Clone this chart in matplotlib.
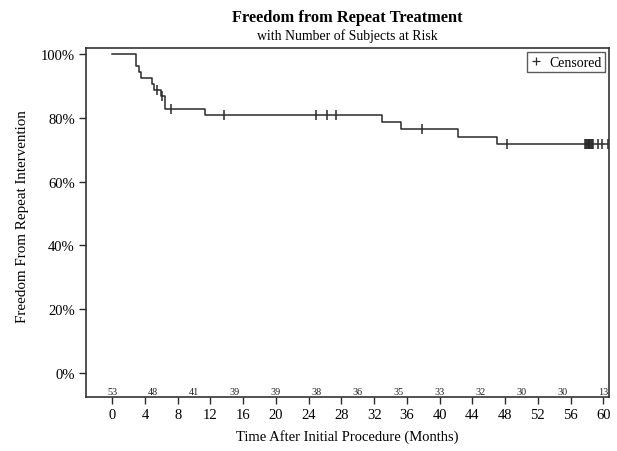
import numpy as np
import matplotlib
matplotlib.use("Agg")
import matplotlib.pyplot as plt
from matplotlib.lines import Line2D

plt.rcParams['font.family'] = ['Liberation Serif', 'DejaVu Serif']

# step curve (months, % free from repeat intervention)
step_times = [0, 2.9, 3.3, 3.5, 4.9, 5.1, 6.0, 6.4, 11.4, 33.0, 35.3, 42.3, 47.0, 60.6]
step_surv = [100, 96.2, 94.3, 92.5, 90.6, 88.7, 86.8, 82.9, 80.9, 78.6, 76.4, 74.1, 71.8, 71.8]

# censored subjects
censor_times = [5.5, 6.1, 7.2, 13.7, 24.9, 26.2, 27.3, 37.9, 48.2,
                57.8, 57.9, 58.0, 58.1, 58.2, 58.3, 58.4, 58.5, 58.6, 58.7,
                59.3, 59.9, 60.6]

# number at risk
risk_times = [0, 5, 10, 15, 20, 25, 30, 35, 40, 45, 50, 55, 60]
risk_counts = [53, 48, 41, 39, 39, 38, 36, 35, 33, 32, 30, 30, 13]

x_ticks = list(range(0, 61, 4))
y_ticks = [0, 20, 40, 60, 80, 100]

line_col = '#2a2a2a'

fig = plt.figure(figsize=(6.17, 4.52), dpi=100)
ax = fig.add_axes([0.1394, 0.1195, 0.8476, 0.7721])

ax.step(step_times, step_surv, where='post', color=line_col, lw=1.1)

# censor marks sit on the curve
idx = np.searchsorted(step_times, censor_times, side='right') - 1
censor_y = np.array(step_surv)[idx]
ax.plot(censor_times, censor_y, linestyle='none', marker='|', markersize=7,
        markeredgewidth=1.1, color=line_col)

for t, n in zip(risk_times, risk_counts):
    ax.text(t, -5.8, str(n), ha='center', va='center', fontsize=7.3, color='#222222')

ax.set_xlim(-3.2, 60.7)
ax.set_ylim(-7.5, 101.9)
ax.set_xticks(x_ticks)
ax.set_yticks(y_ticks)
ax.set_yticklabels([f'{v}%' for v in y_ticks])
ax.tick_params(axis='both', direction='out', length=5, width=1, color=line_col,
               labelsize=10.5, pad=3)
for s in ax.spines.values():
    s.set_color('#333333')
    s.set_linewidth(1.2)

ax.set_xlabel('Time After Initial Procedure (Months)', fontsize=10.5, labelpad=6)
ax.set_ylabel('Freedom From Repeat Intervention', fontsize=10.8)
ax.yaxis.set_label_coords(-0.109, 0.521)

fig.text(0.5627, 0.960, 'Freedom from Repeat Treatment', ha='center', va='center',
         fontsize=11.8, fontweight='bold')
fig.text(0.5627, 0.921, 'with Number of Subjects at Risk', ha='center', va='center',
         fontsize=9.9)

handle = Line2D([], [], linestyle='none', marker='+', markersize=6,
                markeredgewidth=0.9, color=line_col)
leg = ax.legend([handle], ['Censored'], loc='upper right', fontsize=10,
                frameon=True, fancybox=False, handlelength=0.8,
                handletextpad=0.5, borderpad=0.25, borderaxespad=0.3)
leg.get_frame().set_edgecolor('#333333')
leg.get_frame().set_linewidth(1)

fig.savefig('out.png', dpi=100)
